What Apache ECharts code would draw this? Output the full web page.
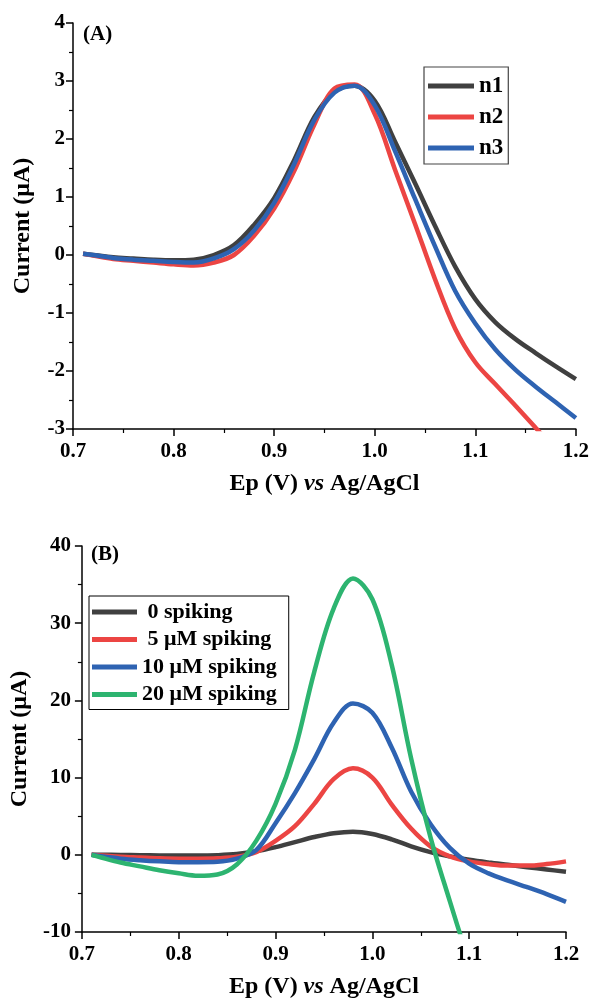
<!DOCTYPE html>
<html>
<head>
<meta charset="utf-8">
<script src="https://cdn.jsdelivr.net/npm/echarts@6/dist/echarts.min.js"></script>
<style>
  html, body { margin: 0; padding: 0; background: #fff; }
  #chart { width: 592px; height: 1000px; }
</style>
</head>
<body>
<div id="chart"></div>
<script>
// Potential sweep (V vs Ag/AgCl), shared by both panels
const potential = [0.71, 0.72, 0.74, 0.76, 0.78, 0.80, 0.82, 0.84, 0.86, 0.88, 0.90, 0.92, 0.94, 0.96, 0.98, 1.00, 1.02, 1.04, 1.06, 1.08, 1.10, 1.12, 1.14, 1.16, 1.18, 1.20];

// Panel A: repeated measurements (n1–n3), current in µA
const n1 = [0.02, 0.00, -0.04, -0.06, -0.08, -0.09, -0.08, 0.00, 0.17, 0.52, 0.98, 1.64, 2.38, 2.82, 2.92, 2.66, 1.96, 1.24, 0.50, -0.20, -0.76, -1.16, -1.45, -1.69, -1.92, -2.14];
const n2 = [0.02, -0.01, -0.07, -0.10, -0.13, -0.16, -0.18, -0.13, 0.00, 0.33, 0.80, 1.45, 2.25, 2.87, 2.94, 2.43, 1.48, 0.54, -0.42, -1.27, -1.85, -2.23, -2.60, -2.98, -3.36];
const n3 = [0.02, 0.00, -0.05, -0.08, -0.10, -0.12, -0.13, -0.06, 0.10, 0.42, 0.90, 1.57, 2.33, 2.80, 2.92, 2.58, 1.80, 0.97, 0.15, -0.62, -1.18, -1.63, -1.98, -2.27, -2.54, -2.81];
const namesA = ['n1', 'n2', 'n3'];

// Panel B: spiking levels, current in µA
const spike0 = [0, 0.00, -0.02, -0.05, -0.08, -0.10, -0.10, -0.05, 0.10, 0.45, 1.00, 1.65, 2.30, 2.80, 3.00, 2.70, 2.00, 1.10, 0.35, -0.20, -0.65, -1.00, -1.30, -1.60, -1.90, -2.20];
const spike5 = [0, -0.10, -0.25, -0.35, -0.45, -0.50, -0.50, -0.45, -0.25, 0.35, 1.80, 3.70, 6.60, 9.80, 11.2, 10.0, 6.50, 3.40, 1.10, -0.20, -0.85, -1.20, -1.40, -1.40, -1.20, -0.85];
const spike10 = [0, -0.20, -0.50, -0.70, -0.85, -0.95, -0.95, -0.90, -0.50, 0.60, 4.10, 8.00, 12.4, 17.1, 19.6, 18.4, 13.9, 8.20, 4.00, 0.90, -1.15, -2.40, -3.35, -4.20, -5.10, -6.10];
const spike20 = [0, -0.35, -1.00, -1.50, -2.00, -2.40, -2.72, -2.55, -1.25, 1.80, 6.60, 13.6, 23.7, 31.9, 35.8, 33.1, 24.6, 12.5, 2.30, -6.00, -14.0];
const namesB = [' 0 spiking', ' 5 \u03bcM spiking', '10 \u03bcM spiking', '20 \u03bcM spiking'];

const xTicks = { min: 0.7, max: 1.2, interval: 0.1 };
const yTicksA = { min: -3, max: 4, interval: 1 };
const yTicksB = { min: -10, max: 40, interval: 10 };

const colors = { black: '#404040', red: '#ec4543', blue: '#2e63b2', green: '#2db470' };
const FONT = '"Times New Roman", "Liberation Serif", serif';

function pairs(xs, ys) {
  const out = [];
  for (let i = 0; i < ys.length; i++) out.push([xs[i], ys[i]]);
  return out;
}

function xAxisCfg(gridIndex) {
  return {
    type: 'value', gridIndex,
    min: xTicks.min, max: xTicks.max, interval: xTicks.interval,
    name: '{a|Ep (V) }{b|vs}{a| Ag/AgCl}',
    nameLocation: 'middle', nameGap: 43,
    nameTextStyle: {
      rich: {
        a: { fontFamily: FONT, fontWeight: 'bold', fontSize: 24, color: '#000' },
        b: { fontFamily: FONT, fontWeight: 'bold', fontStyle: 'italic', fontSize: 24, color: '#000' }
      }
    },
    axisLine: { onZero: false, lineStyle: { color: '#000', width: 1.5 } },
    axisTick: { show: true, length: 7, lineStyle: { color: '#000', width: 1.5 } },
    minorTick: { show: true, splitNumber: 2, length: 4, lineStyle: { color: '#000', width: 1.2 } },
    splitLine: { show: false },
    axisLabel: {
      margin: 12, fontFamily: FONT, fontWeight: 'bold', fontSize: 21, color: '#000',
      formatter: v => v.toFixed(1)
    }
  };
}

function yAxisCfg(gridIndex, ticks, nameGap, labelMargin) {
  return {
    type: 'value', gridIndex,
    min: ticks.min, max: ticks.max, interval: ticks.interval,
    name: 'Current (\u03bcA)',
    nameLocation: 'middle', nameGap,
    nameTextStyle: { fontFamily: FONT, fontWeight: 'bold', fontSize: 24, color: '#000' },
    axisLine: { show: true, onZero: false, lineStyle: { color: '#000', width: 1.5 } },
    axisTick: { show: true, length: 7, lineStyle: { color: '#000', width: 1.5 } },
    minorTick: { show: true, splitNumber: 2, length: 4, lineStyle: { color: '#000', width: 1.2 } },
    splitLine: { show: false },
    axisLabel: {
      margin: labelMargin, fontFamily: FONT, fontWeight: 'bold', fontSize: 21, color: '#000',
      formatter: v => String(Math.round(v))
    }
  };
}

function lineSeries(name, ys, color, idx) {
  return {
    name, type: 'line', xAxisIndex: idx, yAxisIndex: idx,
    data: pairs(potential, ys),
    smooth: 0.35, showSymbol: false, symbol: 'none',
    lineStyle: { color, width: 4.5 }, itemStyle: { color },
    clip: true, animation: false
  };
}

const chart = echarts.init(document.getElementById('chart'), null, { renderer: 'canvas' });
chart.setOption({
  backgroundColor: '#fff',
  animation: false,
  grid: [
    { left: 73, right: 16, top: 23, height: 406 },
    { left: 81, right: 26, top: 546, height: 388 }
  ],
  xAxis: [xAxisCfg(0), xAxisCfg(1)],
  yAxis: [yAxisCfg(0, yTicksA, 38, 8), yAxisCfg(1, yTicksB, 47, 11)],
  legend: [
    {
      data: namesA, orient: 'vertical', left: 424, top: 67,
      icon: 'rect', itemWidth: 46, itemHeight: 5, itemGap: 5,
      padding: [6, 5, 3, 4],
      borderColor: '#444', borderWidth: 1.2,
      selectedMode: false,
      textStyle: { fontFamily: FONT, fontWeight: 'bold', fontSize: 23, color: '#000', lineHeight: 26 }
    },
    {
      data: namesB, orient: 'vertical', left: 89, top: 596,
      icon: 'rect', itemWidth: 45, itemHeight: 5, itemGap: 3.5,
      padding: [4, 12, 3, 3],
      borderColor: '#000', borderWidth: 1,
      selectedMode: false,
      textStyle: { fontFamily: FONT, fontWeight: 'bold', fontSize: 22, color: '#000', lineHeight: 24 }
    }
  ],
  graphic: [
    { type: 'text', left: 83, top: 24, style: { text: '(A)', font: 'bold 21px ' + FONT, fill: '#000' } },
    { type: 'text', left: 91, top: 544, style: { text: '(B)', font: 'bold 21px ' + FONT, fill: '#000' } }
  ],
  series: [
    lineSeries(namesA[0], n1, colors.black, 0),
    lineSeries(namesA[1], n2, colors.red, 0),
    lineSeries(namesA[2], n3, colors.blue, 0),
    lineSeries(namesB[0], spike0, colors.black, 1),
    lineSeries(namesB[1], spike5, colors.red, 1),
    lineSeries(namesB[2], spike10, colors.blue, 1),
    lineSeries(namesB[3], spike20, colors.green, 1)
  ]
});
</script>
</body>
</html>
